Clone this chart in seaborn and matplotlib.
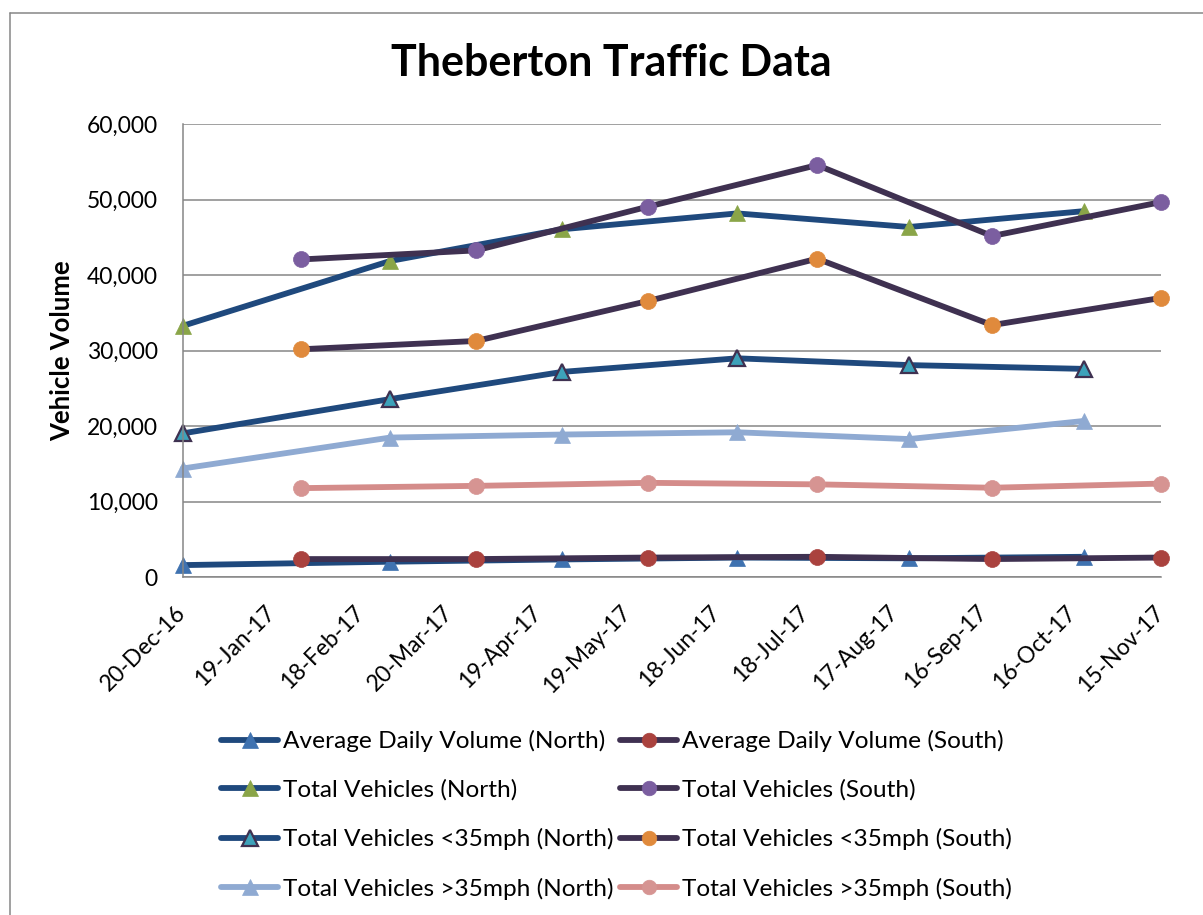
import pandas as pd
import matplotlib
matplotlib.use('Agg')
import matplotlib.pyplot as plt
import matplotlib.dates as mdates
import matplotlib.ticker as mticker
from matplotlib.lines import Line2D
import seaborn as sns

# survey dates (north and south counters were read on alternating dates)
north_dates = ['2016-12-20', '2017-02-28', '2017-04-27', '2017-06-25', '2017-08-22', '2017-10-20']
south_dates = ['2017-01-29', '2017-03-29', '2017-05-26', '2017-07-22', '2017-09-19', '2017-11-15']

avg_daily_north = [1600, 2050, 2350, 2600, 2500, 2700]
avg_daily_south = [2400, 2400, 2600, 2700, 2400, 2600]
total_north = [33300, 41900, 46100, 48200, 46400, 48500]
total_south = [42100, 43300, 49100, 54600, 45200, 49700]
under35_north = [19050, 23600, 27200, 29000, 28100, 27600]
under35_south = [30200, 31300, 36600, 42200, 33400, 37000]
over35_north = [14400, 18500, 18900, 19200, 18300, 20700]
over35_south = [11800, 12100, 12500, 12300, 11850, 12400]

series_names = [
    'Average Daily Volume (North)', 'Average Daily Volume (South)',
    'Total Vehicles (North)', 'Total Vehicles (South)',
    'Total Vehicles <35mph (North)', 'Total Vehicles <35mph (South)',
    'Total Vehicles >35mph (North)', 'Total Vehicles >35mph (South)',
]

NORTH_LINE = '#1F497D'
SOUTH_LINE = '#3F3151'

# name -> (dates, values, line colour, marker, marker face, marker edge)
series = {
    series_names[0]: (north_dates, avg_daily_north, NORTH_LINE, '^', '#3F72B0', '#3F72B0'),
    series_names[1]: (south_dates, avg_daily_south, SOUTH_LINE, 'o', '#AA423E', '#AA423E'),
    series_names[2]: (north_dates, total_north, NORTH_LINE, '^', '#8AA548', '#8AA548'),
    series_names[3]: (south_dates, total_south, SOUTH_LINE, 'o', '#7B5EA0', '#7B5EA0'),
    series_names[4]: (north_dates, under35_north, NORTH_LINE, '^', '#3DA2BA', SOUTH_LINE),
    series_names[5]: (south_dates, under35_south, SOUTH_LINE, 'o', '#E08A3C', '#E08A3C'),
    series_names[6]: (north_dates, over35_north, '#8FAAD2', '^', '#8FAAD2', '#8FAAD2'),
    series_names[7]: (south_dates, over35_south, '#D48C8A', 'o', '#D69492', '#D69492'),
}

sns.set_style('white')
plt.rcParams['font.family'] = ['Lato', 'DejaVu Sans']
plt.rcParams['text.color'] = 'black'

fig = plt.figure(figsize=(12.03, 9.15), dpi=100)
ax = fig.add_axes([0.1519, 0.3692, 0.8132, 0.4949])

handles = {}
for name in series_names:
    dates, vals, lc, mk, mfc, mec = series[name]
    df = pd.DataFrame({'date': pd.to_datetime(dates), 'value': vals})
    sns.lineplot(data=df, x='date', y='value', ax=ax, color=lc, linewidth=4.2,
                 marker=mk, markersize=12 if mk == '^' else 11.5,
                 markerfacecolor=mfc, markeredgecolor=mec,
                 markeredgewidth=1.6 if mec != mfc else 0.5, legend=False,
                 clip_on=False)
    handles[name] = Line2D([], [], color=lc, linewidth=4.2, marker=mk,
                           markersize=11 if mk == '^' else 10.5,
                           markerfacecolor=mfc, markeredgecolor=mec,
                           markeredgewidth=1.6 if mec != mfc else 0.5)

# axes styling (Excel look)
ax.set_xlim(pd.Timestamp('2016-12-20'), pd.Timestamp('2017-11-15'))
ax.set_ylim(0, 60000)
ax.yaxis.set_major_locator(mticker.MultipleLocator(10000))
ax.yaxis.set_major_formatter(mticker.FuncFormatter(lambda v, p: f'{v:,.0f}'))
tick_dates = pd.date_range('2016-12-20', '2017-11-15', freq='30D')
ax.set_xticks(tick_dates)
ax.xaxis.set_major_formatter(mdates.DateFormatter('%d-%b-%y'))
ax.set_xlabel('')
ax.set_ylabel('')

ax.yaxis.grid(True, color='#868686', linewidth=1.1)
ax.xaxis.grid(False)
ax.set_axisbelow(True)
for side in ['top', 'right']:
    ax.spines[side].set_visible(False)
for side in ['left', 'bottom']:
    ax.spines[side].set_color('#868686')
    ax.spines[side].set_linewidth(1.1)
ax.tick_params(axis='y', length=0, pad=18, labelsize=16.5, labelcolor='black')
ax.tick_params(axis='x', length=0, pad=23, labelsize=16.5, labelcolor='black')
for lbl in ax.get_xticklabels():
    lbl.set_rotation(45)
    lbl.set_ha('right')
    lbl.set_va('center')
    lbl.set_rotation_mode('anchor')

fig.text(0.5083, 1 - 63 / 915, 'Theberton Traffic Data', ha='center', va='center',
         fontsize=31, fontweight='bold', color='black')
fig.text(62 / 1203, 1 - 351 / 915, 'Vehicle Volume', ha='center', va='center',
         rotation=90, fontsize=18.5, fontweight='bold', color='black')

# matplotlib fills legend columns first: north series left, south series right
legend_order = series_names[0::2] + series_names[1::2]
fig.legend([handles[n] for n in legend_order], legend_order, ncol=2, loc='center',
           bbox_to_anchor=(0.5125, 1 - 815 / 915), frameon=False,
           fontsize=17.6, handlelength=2.35, handletextpad=0.2,
           columnspacing=0.25, labelspacing=1.12, borderpad=0)

# outer chart-area frame (only the top and left edges are inside the picture)
fig.add_artist(Line2D([10 / 1203, 10 / 1203], [0, 1 - 12.7 / 915],
                      transform=fig.transFigure, color='#868686', linewidth=1.1))
fig.add_artist(Line2D([10 / 1203, 1], [1 - 12.7 / 915, 1 - 12.7 / 915],
                      transform=fig.transFigure, color='#868686', linewidth=1.1))

fig.savefig('out.png', dpi=100, facecolor='white')
